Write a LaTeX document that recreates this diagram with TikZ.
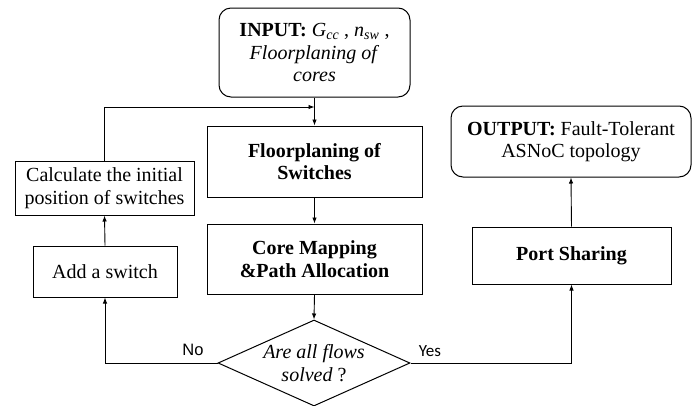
\documentclass[tikz,border=0pt]{standalone}
\usepackage{fontspec}
\setmainfont{Liberation Serif}
\newfontfamily\yesfont{Carlito}
\newfontfamily\nofont{Liberation Sans}
\usetikzlibrary{arrows.meta,shapes.geometric}
\begin{document}
\begin{tikzpicture}[x=1pt,y=-1pt,
  every node/.style={font=\fontsize{20}{22.5}\selectfont, align=center, inner sep=0pt},
  boxnode/.style={draw, line width=1pt},
  roundnode/.style={draw, line width=1pt, rounded corners=12pt},
  conn/.style={line width=0.9pt, -{Latex[length=6pt,width=4.5pt]}},
  nolabel/.style={font=\nofont\fontsize{16.5}{19}\selectfont},
  yeslabel/.style={font=\yesfont\fontsize{17}{19}\selectfont}]
\useasboundingbox (0,0) rectangle (699,405);
\node[roundnode, minimum width=191pt, minimum height=89pt] (input) at (314.5,52.5)
  {\textbf{INPUT:} \textit{G\textsubscript{cc}} , \textit{n\textsubscript{sw}} ,\\ \textit{Floorplaning of}\\ \textit{cores}};
\node[boxnode, minimum width=215pt, minimum height=71pt] (floor) at (314.5,161.5)
  {\textbf{Floorplaning of}\\ \textbf{Switches}};
\node[boxnode, minimum width=215pt, minimum height=70pt] (core) at (314.5,259)
  {\textbf{Core Mapping}\\ \textbf{\&Path Allocation}};
\node[draw, line width=1pt, diamond, aspect=2.23, minimum width=192pt, minimum height=86pt] (dec) at (314,363)
  {\textit{Are all flows}\\ \textit{solved} ?};
\node[boxnode, minimum width=179pt, minimum height=54pt] (calc) at (104.5,188)
  {Calculate the initial\\ position of switches};
\node[boxnode, minimum width=144pt, minimum height=51pt] (add) at (105,271.5)
  {Add a switch};
\node[boxnode, minimum width=199pt, minimum height=57pt] (port) at (571.5,255.5)
  {\textbf{Port Sharing}};
\node[roundnode, minimum width=240pt, minimum height=71pt] (output) at (571,141.5)
  {\textbf{OUTPUT:} Fault-Tolerant\\ ASNoC topology};
\coordinate (join) at (314.5,107);
\draw[conn] (input.south) -- (floor.north);
\draw[conn] (calc.north) |- (join);
\draw[conn] (floor.south) -- (core.north);
\draw[conn] (core.south) -- (dec.north);
\draw[conn] (dec.west) -| (add.south);
\draw[conn] (add.north) -- (calc.south);
\draw[conn] (dec.east) -| (port.south);
\draw[conn] (port.north) -- (output.south);
\node[nolabel] (no) at (193,350) {No};
\node[yeslabel] (yes) at (430,351) {Yes};
\end{tikzpicture}
\end{document}
